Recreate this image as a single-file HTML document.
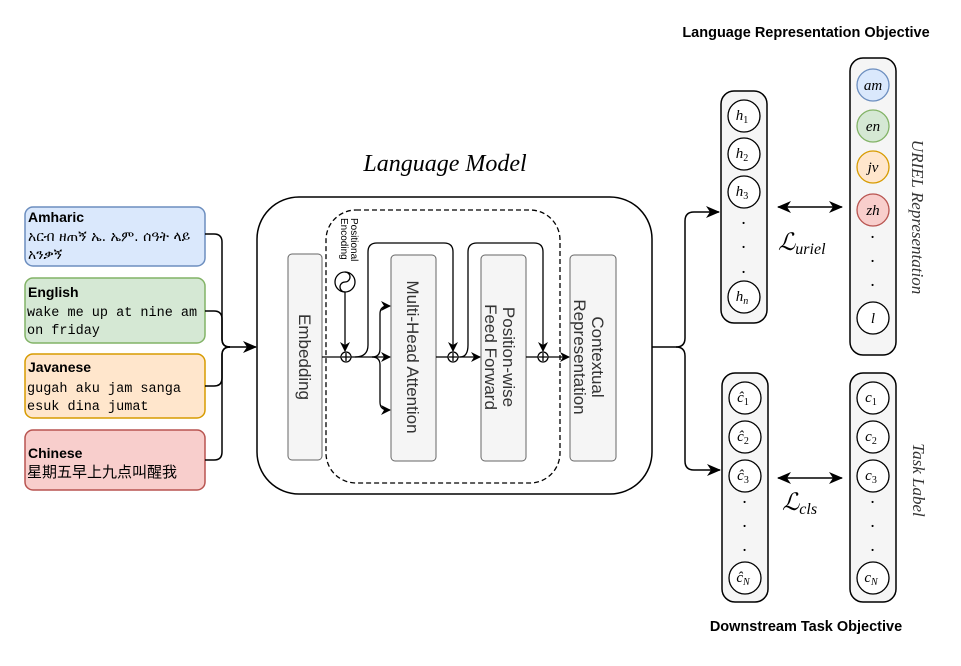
<!DOCTYPE html>
<html><head><meta charset="utf-8"><style>
body{margin:0;background:#fff}
svg{display:block}
.s{font-family:"Liberation Sans",sans-serif}
.m{font-family:"Liberation Mono","DejaVu Sans Mono",monospace}
.i{font-family:"Liberation Serif",serif;font-style:italic}
</style></head><body>
<svg width="961" height="666" viewBox="0 0 961 666" xmlns="http://www.w3.org/2000/svg">
<defs>
<marker id="a" markerWidth="10" markerHeight="10" refX="9" refY="5" orient="auto" markerUnits="userSpaceOnUse"><path d="M0,0 L10,5 L0,10 L3,5z" fill="#000"/></marker>
<marker id="b" markerWidth="14" markerHeight="12" refX="13" refY="6" orient="auto-start-reverse" markerUnits="userSpaceOnUse"><path d="M0,0 L14,6 L0,12 L4,6z" fill="#000"/></marker>
</defs>
<!-- inputs -->
<rect x="25" y="207" width="180" height="59" rx="8" fill="#dae8fc" stroke="#6c8ebf" stroke-width="1.5"/>
<text x="28" y="222" class="s" font-size="14" font-weight="bold">Amharic</text>
<text x="28" y="241" font-family="'DejaVu Sans',sans-serif" font-size="14">አርብ ዘጠኝ ኤ. ኤም. ሰዓት ላይ</text>
<text x="28" y="259" font-family="'DejaVu Sans',sans-serif" font-size="14">አንቃኝ</text>
<rect x="25" y="278" width="180" height="65" rx="8" fill="#d5e8d4" stroke="#82b366" stroke-width="1.5"/>
<text x="28" y="297" class="s" font-size="14" font-weight="bold">English</text>
<text x="27" y="316" class="m" font-size="13.5">wake me up at nine am</text>
<text x="27" y="334" class="m" font-size="13.5">on friday</text>
<rect x="25" y="354" width="180" height="64" rx="8" fill="#ffe6cc" stroke="#d79b00" stroke-width="1.5"/>
<text x="28" y="372" class="s" font-size="14" font-weight="bold">Javanese</text>
<text x="27" y="392" class="m" font-size="13.5">gugah aku jam sanga</text>
<text x="27" y="410" class="m" font-size="13.5">esuk dina jumat</text>
<rect x="25" y="430" width="180" height="60" rx="8" fill="#f8cecc" stroke="#b85450" stroke-width="1.5"/>
<text x="28" y="458" class="s" font-size="14" font-weight="bold">Chinese</text>
<text x="27" y="477" font-family="'Noto Sans CJK SC',sans-serif" font-size="15">星期五早上九点叫醒我</text>
<g fill="none" stroke="#000" stroke-width="1.5">
<path d="M205,234 H214 Q222,234 222,242 V339 Q222,347 230,347"/>
<path d="M205,311 H214 Q222,311 222,319 V339 Q222,347 230,347"/>
<path d="M205,386 H214 Q222,386 222,378 V355 Q222,347 230,347"/>
<path d="M205,460 H214 Q222,460 222,452 V355 Q222,347 230,347"/>
<path d="M228,347 H256" marker-end="url(#b)"/>
</g>
<!-- LM -->
<text x="445" y="171" class="i" font-size="24" text-anchor="middle">Language Model</text>
<rect x="257" y="197" width="395" height="297" rx="42" fill="#fff" stroke="#000" stroke-width="1.5"/>
<rect x="326" y="210" width="234" height="273" rx="30" fill="none" stroke="#000" stroke-width="1.3" stroke-dasharray="5,3"/>
<g fill="#f5f5f5" stroke="#666" stroke-width="1">
<rect x="288" y="254" width="34" height="206" rx="4"/>
<rect x="391" y="255" width="45" height="206" rx="4"/>
<rect x="481" y="255" width="45" height="206" rx="4"/>
<rect x="570" y="255" width="46" height="206" rx="4"/>
</g>
<g class="s" font-size="17" fill="#333">
<text transform="translate(299,357) rotate(90)" text-anchor="middle">Embedding</text>
<text transform="translate(407,357) rotate(90)" text-anchor="middle">Multi-Head Attention</text>
<text transform="translate(503,357) rotate(90)" text-anchor="middle">Position-wise</text>
<text transform="translate(485,357) rotate(90)" text-anchor="middle">Feed Forward</text>
<text transform="translate(592,357) rotate(90)" text-anchor="middle">Contextual</text>
<text transform="translate(574,357) rotate(90)" text-anchor="middle">Representation</text>
</g>
<text transform="translate(351,218) rotate(90)" class="s" font-size="10">Positional</text>
<text transform="translate(341,218) rotate(90)" class="s" font-size="10">Encoding</text>
<g fill="none" stroke="#000" stroke-width="1.3">
<circle cx="345" cy="282" r="10" fill="#fff"/>
<path d="M345,272 a5,5 0 0 1 0,10 a5,5 0 0 0 0,10"/>
<path d="M345,292 V351" marker-end="url(#a)"/>
<path d="M322,357 H341"/>
<path d="M351,357 H390" marker-end="url(#a)"/>
<path d="M372,357 Q380,357 380,349 V314 Q380,306 388,306 H390" marker-end="url(#a)"/>
<path d="M372,357 Q380,357 380,365 V402 Q380,410 388,410 H390" marker-end="url(#a)"/>
<path d="M355,357 Q368,357 368,345 V252 Q368,243 377,243 H444 Q453,243 453,252 V351" marker-end="url(#a)"/>
<path d="M436,357 H448"/>
<path d="M458,357 H480" marker-end="url(#a)"/>
<path d="M460,357 Q468,357 468,345 V252 Q468,243 477,243 H534 Q543,243 543,252 V351" marker-end="url(#a)"/>
<path d="M526,357 H538"/>
<path d="M548,357 H569" marker-end="url(#a)"/>
<circle cx="346" cy="357" r="5" fill="#fff"/><path d="M346,353 V361 M342,357 H350"/>
<circle cx="453" cy="357" r="5" fill="#fff"/><path d="M453,353 V361 M449,357 H457"/>
<circle cx="543" cy="357" r="5" fill="#fff"/><path d="M543,353 V361 M539,357 H547"/>
</g>
<!-- right connectors -->
<g fill="none" stroke="#000" stroke-width="1.5">
<path d="M652,347 H676 Q685,347 685,338 V221 Q685,212 694,212 H719" marker-end="url(#b)"/>
<path d="M676,347 Q685,347 685,356 V461 Q685,470 694,470 H720" marker-end="url(#b)"/>
<path d="M778,207 H842" marker-start="url(#b)" marker-end="url(#b)"/>
<path d="M778,478 H842" marker-start="url(#b)" marker-end="url(#b)"/>
</g>
<text x="806" y="37" class="s" font-size="14.5" font-weight="bold" text-anchor="middle">Language Representation Objective</text>
<text x="806" y="631" class="s" font-size="14.5" font-weight="bold" text-anchor="middle">Downstream Task Objective</text>
<g fill="#f5f5f5" stroke="#000" stroke-width="1.5">
<rect x="721" y="91" width="46" height="232" rx="13"/>
<rect x="850" y="58" width="46" height="297" rx="13"/>
<rect x="722" y="373" width="46" height="229" rx="13"/>
<rect x="850" y="373" width="46" height="229" rx="13"/>
</g>
<g stroke-width="1.3">
<circle cx="744" cy="116" r="16" fill="#fff" stroke="#000"/>
<circle cx="744" cy="154" r="16" fill="#fff" stroke="#000"/>
<circle cx="744" cy="192" r="16" fill="#fff" stroke="#000"/>
<circle cx="744" cy="297" r="16" fill="#fff" stroke="#000"/>
<circle cx="873" cy="85" r="16" fill="#dae8fc" stroke="#6c8ebf"/>
<circle cx="873" cy="126" r="16" fill="#d5e8d4" stroke="#82b366"/>
<circle cx="873" cy="167" r="16" fill="#ffe6cc" stroke="#d79b00"/>
<circle cx="873" cy="210" r="16" fill="#f8cecc" stroke="#b85450"/>
<circle cx="873" cy="318" r="16" fill="#fff" stroke="#000"/>
<circle cx="745" cy="398" r="16" fill="#fff" stroke="#000"/>
<circle cx="745" cy="437" r="16" fill="#fff" stroke="#000"/>
<circle cx="745" cy="476" r="16" fill="#fff" stroke="#000"/>
<circle cx="745" cy="578" r="16" fill="#fff" stroke="#000"/>
<circle cx="873" cy="398" r="16" fill="#fff" stroke="#000"/>
<circle cx="873" cy="437" r="16" fill="#fff" stroke="#000"/>
<circle cx="873" cy="476" r="16" fill="#fff" stroke="#000"/>
<circle cx="873" cy="578" r="16" fill="#fff" stroke="#000"/>
</g>
<g class="i" font-size="15" text-anchor="middle">
<text x="742" y="120">h<tspan font-size="10" font-style="normal" dy="3">1</tspan></text>
<text x="742" y="158">h<tspan font-size="10" font-style="normal" dy="3">2</tspan></text>
<text x="742" y="196">h<tspan font-size="10" font-style="normal" dy="3">3</tspan></text>
<text x="742" y="301">h<tspan font-size="10" dy="3">n</tspan></text>
<text x="744" y="224" font-size="18">.</text><text x="744" y="248" font-size="18">.</text><text x="744" y="273" font-size="18">.</text>
<text x="873" y="90">am</text><text x="873" y="131">en</text><text x="873" y="172">jv</text><text x="873" y="215">zh</text>
<text x="873" y="238" font-size="18">.</text><text x="873" y="262" font-size="18">.</text><text x="873" y="286" font-size="18">.</text>
<text x="873" y="323">l</text>
<text x="743" y="402">ĉ<tspan font-size="10" font-style="normal" dy="3">1</tspan></text>
<text x="743" y="441">ĉ<tspan font-size="10" font-style="normal" dy="3">2</tspan></text>
<text x="743" y="480">ĉ<tspan font-size="10" font-style="normal" dy="3">3</tspan></text>
<text x="743" y="582">ĉ<tspan font-size="10" dy="3">N</tspan></text>
<text x="745" y="503" font-size="18">.</text><text x="745" y="527" font-size="18">.</text><text x="745" y="551" font-size="18">.</text>
<text x="871" y="402">c<tspan font-size="10" font-style="normal" dy="3">1</tspan></text>
<text x="871" y="441">c<tspan font-size="10" font-style="normal" dy="3">2</tspan></text>
<text x="871" y="480">c<tspan font-size="10" font-style="normal" dy="3">3</tspan></text>
<text x="871" y="582">c<tspan font-size="10" dy="3">N</tspan></text>
<text x="873" y="503" font-size="18">.</text><text x="873" y="527" font-size="18">.</text><text x="873" y="551" font-size="18">.</text>
</g>
<text x="778" y="250" class="i" font-size="24">ℒ<tspan font-size="16" dy="4">uriel</tspan></text>
<text x="782" y="510" class="i" font-size="24">ℒ<tspan font-size="16" dy="4">cls</tspan></text>
<text transform="translate(912,217) rotate(90)" class="i" font-size="17" fill="#333" text-anchor="middle">URIEL Representation</text>
<text transform="translate(913,480) rotate(90)" class="i" font-size="17" fill="#333" text-anchor="middle">Task Label</text>
</svg>
</body></html>
